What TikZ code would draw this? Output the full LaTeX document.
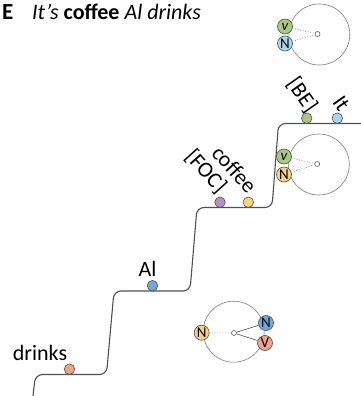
\documentclass[tikz,border=0pt]{standalone}
\usepackage{fontspec}
\setmainfont{Carlito}
\usepackage{tikz}
\usetikzlibrary{positioning,calc}
\definecolor{stepgray}{RGB}{80,80,80}
\definecolor{ringgray}{RGB}{125,125,125}
\definecolor{wsalmon}{RGB}{239,165,133}
\definecolor{wblue}{RGB}{111,168,220}
\definecolor{wpurple}{RGB}{182,144,200}
\definecolor{wyellow}{RGB}{247,211,124}
\definecolor{wgreen}{RGB}{168,201,127}
\definecolor{wsky}{RGB}{166,216,240}

\begin{document}
\begin{tikzpicture}[x=1pt,y=-1pt,
  word/.style={circle,draw=stepgray,line width=0.6pt,minimum size=10.5pt,inner sep=0pt},
  lbl/.style={font=\fontsize{22}{26}\selectfont,inner sep=0pt},
  tilted/.style={lbl,anchor=east,rotate=#1},
  ring/.style={circle,draw=ringgray,line width=0.6pt,minimum size=61pt,inner sep=0pt},
  hub/.style={circle,draw=stepgray,fill=white,line width=0.5pt,minimum size=5pt,inner sep=0pt},
  role/.style={circle,draw=stepgray,line width=0.6pt,minimum size=15pt,inner sep=0pt,font=\fontsize{15}{15}\selectfont},
  link/.style={draw=stepgray,line width=0.6pt},
  dotlink/.style={link,dotted}
]
\useasboundingbox (0,0) rectangle (360,396);
% title
\node[lbl,font=\fontsize{23}{26}\selectfont\bfseries,anchor=base west] (panel) at (2,20) {E};
\node[lbl,font=\fontsize{22}{26}\selectfont,anchor=base west] (title) at (32,20) {\itshape It's \textbf{\upshape coffee} Al drinks};
% staircase
\draw[stepgray,line width=1.1pt,rounded corners=7pt] (32.5,400) -- (35.5,374.5) -- (106.5,374.5) -- (114,291) -- (190,291) -- (197,207.5) -- (272,207.5) -- (278.5,123.5) -- (362,123.5);
% words on the steps
\node[word,fill=wsalmon] (drinks) at (69.5,369.2) {};
\node[word,fill=wblue] (al) at (152.5,285.7) {};
\node[word,fill=wpurple] (foc) at (220,202.2) {};
\node[word,fill=wyellow] (coffee) at (248.3,202.2) {};
\node[word,fill=wgreen] (be) at (306.7,118.2) {};
\node[word,fill=wsky] (it) at (337.3,118.2) {};
\node[lbl,anchor=base] (drinkslbl) at (40,360) {drinks};
\node[lbl,anchor=base] (allbl) at (147.5,276.7) {Al};
\node[tilted=-48] (foclbl) at (222.5,190) {[FOC]};
\node[tilted=-48] (coffeelbl) at (253,190) {coffee};
\node[tilted=-55] (belbl) at (312.5,110) {[BE]};
\node[tilted=-55] (itlbl) at (345,109) {It};
% top structure
\node[ring] (ringA) at (319.3,34.5) {};
\node[hub] (hubA) at (317.5,34) {};
\node[role,fill=wgreen] (vA) at (285,26.5) {\itshape v};
\node[role,fill=wsky] (nA) at (285,43.5) {N};
\draw[dotlink] (vA) -- (hubA); \draw[dotlink] (nA) -- (hubA);
% middle structure
\node[ring] (ringB) at (318.8,164.5) {};
\node[hub] (hubB) at (317.3,164) {};
\node[role,fill=wgreen] (vB) at (284,156.5) {\itshape v};
\node[role,fill=wyellow] (nB) at (284,174.5) {N};
\draw[dotlink] (vB) -- (hubB); \draw[dotlink] (nB) -- (hubB);
% bottom structure
\node[ring] (ringC) at (233.7,331.7) {};
\node[hub] (hubC) at (234,333) {};
\node[role,fill=wyellow] (nC) at (201.7,332.7) {N};
\node[role,fill=wblue] (mC) at (266,323) {N};
\node[role,fill=wsalmon] (vC) at (265,343) {V};
\draw[dotlink] (nC) -- (hubC); \draw[link] (hubC) -- (mC); \draw[link] (hubC) -- (vC);
\end{tikzpicture}
\end{document}
